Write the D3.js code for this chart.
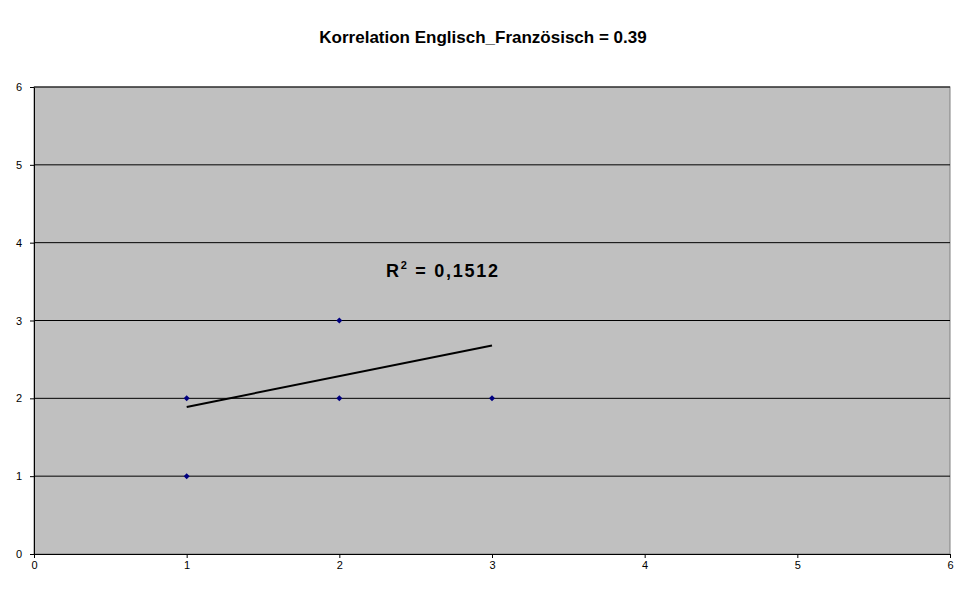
<!DOCTYPE html>
<html><head><meta charset="utf-8">
<script src="https://cdn.jsdelivr.net/npm/d3@7"></script>
<style>body{margin:0;background:#fff}</style></head>
<body><svg id="c" width="970" height="603"></svg>
<script>
const pointsX = [1, 1, 2, 2, 3];
const pointsY = [2, 1, 3, 2, 2];
const trendX = [1, 3];
const trendY = [1.89, 2.68];
const xTicks = [0,1,2,3,4,5,6];
const yTicks = [0,1,2,3,4,5,6];
const title = "Korrelation Englisch_Französisch = 0.39";

const svg = d3.select("#c");
const x = d3.scaleLinear().domain([0,6]).range([34,950]);
const y = d3.scaleLinear().domain([0,6]).range([554,87]);
svg.append("rect").attr("x",34).attr("y",87).attr("width",916).attr("height",467).attr("fill","#c0c0c0").attr("stroke","#808080");
svg.selectAll(".g").data(yTicks.slice(1)).join("line")
  .attr("x1",34).attr("x2",950).attr("y1",d=>y(d)).attr("y2",d=>y(d)).attr("stroke","#000");
const ax = svg.append("g").attr("transform","translate(0,554)").call(d3.axisBottom(x).tickValues(xTicks).tickFormat(d3.format("d")).tickSize(4).tickSizeOuter(0));
const ay = svg.append("g").attr("transform","translate(34,0)").call(d3.axisLeft(y).tickValues(yTicks).tickFormat(d3.format("d")).tickSize(4).tickSizeOuter(0));
[ax,ay].forEach(a=>{a.selectAll("text").attr("font-family","Arial, Liberation Sans").attr("font-size",11).attr("fill","#000");a.select(".domain").attr("stroke","#000");});
ay.selectAll("text").attr("x",-12);
svg.append("line").attr("x1",x(trendX[0])).attr("y1",y(trendY[0])).attr("x2",x(trendX[1])).attr("y2",y(trendY[1])).attr("stroke","#000").attr("stroke-width",2);
svg.selectAll(".p").data(pointsX.map((d,i)=>[d,pointsY[i]])).join("path")
  .attr("d","M0,-3L3,0L0,3L-3,0Z").attr("transform",d=>`translate(${x(d[0])},${y(d[1])})`).attr("fill","#000080");
svg.append("text").attr("x",483).attr("y",43).attr("text-anchor","middle").attr("font-family","Arial, Liberation Sans").attr("font-weight","bold").attr("font-size",17).text(title);
const r = svg.append("text").attr("x",386).attr("y",277).attr("font-family","Arial, Liberation Sans").attr("font-weight","bold").attr("font-size",18).attr("textLength",112);
r.append("tspan").text("R");
r.append("tspan").attr("dy",-8).attr("font-size",11).text("2");
r.append("tspan").attr("dy",8).text(" = 0,1512");
</script></body></html>
